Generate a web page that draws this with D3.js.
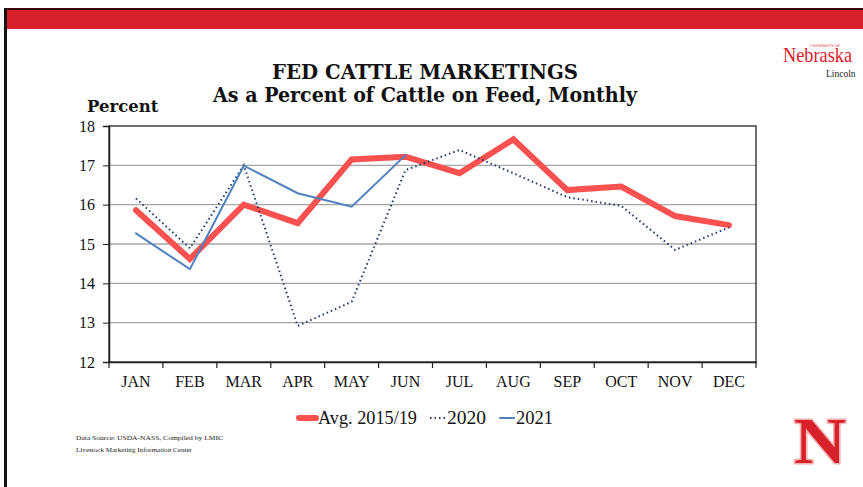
<!DOCTYPE html>
<html>
<head>
<meta charset="utf-8">
<script src="https://cdn.jsdelivr.net/npm/d3@7"></script>
<style>
  body { margin: 0; background: #fff; }
  svg { display: block; font-family: "DejaVu Serif", "Liberation Serif", serif; }
</style>
</head>
<body>
<div id="chart"></div>
<script>
const width = 863;
const height = 487;

// chart data
const months = ["JAN", "FEB", "MAR", "APR", "MAY", "JUN", "JUL", "AUG", "SEP", "OCT", "NOV", "DEC"];
const avg1519 = [15.86, 14.62, 16.0, 15.53, 17.15, 17.22, 16.8, 17.66, 16.37, 16.46, 15.71, 15.48];
const y2020 = [16.16, 14.89, 17.0, 12.92, 13.53, 16.88, 17.39, 16.8, 16.19, 15.97, 14.85, 15.42];
const y2021 = [15.27, 14.36, 16.99, 16.29, 15.95, 17.26];
const yTicks = [12, 13, 14, 15, 16, 17, 18];

const series = [
  { name: "Avg. 2015/19", values: avg1519, color: "#f9514f", width: 6, dash: null },
  { name: "2020", values: y2020, color: "#1f3a6e", width: 2, dash: "1.5,3" },
  { name: "2021", values: y2021, color: "#4f81bd", width: 2, dash: null }
];

const margin = { top: 126, right: 107, bottom: 125, left: 109 };

const svg = d3.select("#chart").append("svg")
  .attr("width", width)
  .attr("height", height);

// slide frame: left border, top red band
svg.append("rect").attr("x", 0).attr("y", 0).attr("width", width).attr("height", height).attr("fill", "#fff");
svg.append("rect").attr("x", 4).attr("y", 8).attr("width", width).attr("height", 2.5).attr("fill", "#3a0a0a");
svg.append("rect").attr("x", 4).attr("y", 10).attr("width", width).attr("height", 19).attr("fill", "#d8202a");
svg.append("rect").attr("x", 4).attr("y", 8).attr("width", 3).attr("height", height).attr("fill", "#111");

const x = d3.scaleBand()
  .domain(months)
  .range([margin.left, width - margin.right]);

const y = d3.scaleLinear()
  .domain([12, 18])
  .range([height - margin.bottom, margin.top]);

// grid lines
svg.append("g")
  .selectAll("line")
  .data(yTicks.slice(1, -1))
  .join("line")
  .attr("x1", margin.left)
  .attr("x2", width - margin.right)
  .attr("y1", d => y(d))
  .attr("y2", d => y(d))
  .attr("stroke", "#a6a6a6")
  .attr("stroke-width", 1.3);

// plot frame
svg.append("rect")
  .attr("x", margin.left)
  .attr("y", margin.top)
  .attr("width", width - margin.left - margin.right)
  .attr("height", height - margin.top - margin.bottom)
  .attr("fill", "none")
  .attr("stroke", "#222")
  .attr("stroke-width", 1.3);

// y axis
const yAxis = svg.append("g")
  .attr("transform", `translate(${margin.left},0)`)
  .call(d3.axisLeft(y).tickValues(yTicks).tickSize(6).tickPadding(8).tickFormat(d3.format("d")));
yAxis.select(".domain").attr("stroke", "#222").attr("stroke-width", 1.5);
yAxis.selectAll(".tick line").attr("stroke", "#222");
yAxis.selectAll("text").attr("font-size", 16).attr("fill", "#111").attr("font-family", "Liberation Serif, serif");

// x axis: ticks at the category boundaries
const xAxis = svg.append("g")
  .attr("transform", `translate(0,${height - margin.bottom})`)
  .call(d3.axisBottom(x).tickSize(0).tickPadding(14));
xAxis.select(".domain").attr("stroke", "#222").attr("stroke-width", 1.5);
xAxis.selectAll("text").attr("font-size", 16).attr("fill", "#111").attr("font-family", "Liberation Serif, serif");

const bounds = months.map(m => x(m)).concat([x.range()[1]]);
svg.append("g")
  .selectAll("line")
  .data(bounds)
  .join("line")
  .attr("x1", d => d).attr("x2", d => d)
  .attr("y1", height - margin.bottom)
  .attr("y2", height - margin.bottom + 6)
  .attr("stroke", "#222")
  .attr("stroke-width", 1.2);

// lines
const line = d3.line()
  .x((d, i) => x(months[i]) + x.bandwidth() / 2)
  .y(d => y(d));

svg.append("g")
  .selectAll("path")
  .data(series)
  .join("path")
  .attr("d", d => line(d.values))
  .attr("fill", "none")
  .attr("stroke", d => d.color)
  .attr("stroke-width", d => d.width)
  .attr("stroke-dasharray", d => d.dash)
  .attr("stroke-linejoin", "miter")
  .attr("stroke-linecap", d => d.dash ? "butt" : "round");

// titles
svg.append("text")
  .attr("x", 272).attr("y", 79)
  .attr("font-size", 19.5).attr("font-weight", "bold")
  .attr("textLength", 306).attr("lengthAdjust", "spacingAndGlyphs")
  .attr("fill", "#111")
  .text("FED CATTLE MARKETINGS");
svg.append("text")
  .attr("x", 213).attr("y", 102)
  .attr("font-size", 19.5).attr("font-weight", "bold")
  .attr("textLength", 424).attr("lengthAdjust", "spacingAndGlyphs")
  .attr("fill", "#111")
  .text("As a Percent of Cattle on Feed, Monthly");
svg.append("text")
  .attr("x", 87).attr("y", 112)
  .attr("font-size", 16.5).attr("font-weight", "bold")
  .attr("fill", "#111")
  .text("Percent");

// legend
const legendItems = [
  { s: series[0], x: 299, sw: 17, textX: 318, tw: 99 },
  { s: series[1], x: 430, sw: 15, textX: 447, tw: 39 },
  { s: series[2], x: 500, sw: 14, textX: 516, tw: 37 }
];
const legend = svg.append("g").attr("transform", "translate(0,418)");
legend.selectAll("line")
  .data(legendItems)
  .join("line")
  .attr("x1", d => d.x).attr("x2", d => d.x + d.sw)
  .attr("y1", 0).attr("y2", 0)
  .attr("stroke", d => d.s.color)
  .attr("stroke-width", d => d.s.width)
  .attr("stroke-dasharray", d => d.s.dash)
  .attr("stroke-linecap", d => d.s.dash ? "butt" : "round");
legend.selectAll("text")
  .data(legendItems)
  .join("text")
  .attr("x", d => d.textX).attr("y", 6)
  .attr("font-size", 19)
  .attr("font-family", "Liberation Serif, serif")
  .attr("textLength", d => d.tw).attr("lengthAdjust", "spacingAndGlyphs")
  .attr("fill", "#111")
  .text(d => d.s.name);

// source note
svg.append("text")
  .attr("x", 76).attr("y", 440)
  .attr("font-size", 6.5).attr("fill", "#222")
  .attr("font-family", "Liberation Serif, serif")
  .attr("textLength", 147).attr("lengthAdjust", "spacingAndGlyphs")
  .text("Data Source:  USDA-NASS,  Compiled  by LMIC");
svg.append("text")
  .attr("x", 76).attr("y", 452)
  .attr("font-size", 6.5).attr("fill", "#222")
  .attr("font-family", "Liberation Serif, serif")
  .attr("textLength", 116).attr("lengthAdjust", "spacingAndGlyphs")
  .text("Livestock Marketing Information Center");

// University logo, top right
svg.append("text")
  .attr("x", 783).attr("y", 62)
  .attr("font-family", "Liberation Serif, serif")
  .attr("font-size", 21).attr("fill", "#d8202a")
  .attr("textLength", 69).attr("lengthAdjust", "spacingAndGlyphs")
  .text("Nebraska");
svg.append("text")
  .attr("x", 810).attr("y", 47)
  .attr("font-size", 3.5).attr("fill", "#d8202a")
  .text("UNIVERSITY OF");
svg.append("text")
  .attr("x", 826).attr("y", 77)
  .attr("font-family", "Liberation Serif, serif")
  .attr("font-size", 9.5).attr("fill", "#222")
  .text("Lincoln");

// N logo, bottom right
svg.append("text")
  .attr("x", 820).attr("y", 463)
  .attr("text-anchor", "middle")
  .attr("font-family", "Liberation Serif, serif")
  .attr("font-size", 66).attr("font-weight", "bold")
  .attr("textLength", 52).attr("lengthAdjust", "spacingAndGlyphs")
  .attr("fill", "#d8202a")
  .attr("stroke", "#f2b2b2").attr("stroke-width", 3)
  .attr("paint-order", "stroke")
  .text("N");
</script>
</body>
</html>
